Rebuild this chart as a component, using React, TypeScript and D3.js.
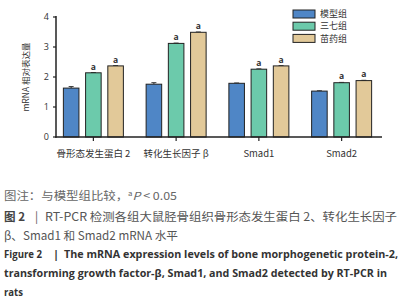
import React from "react";
import * as d3 from "d3";

const categories = ["骨形态发生蛋白 2", "转化生长因子 β", "Smad1", "Smad2"];
const seriesNames = ["模型组", "三七组", "苗药组"];
const modelValues = [1.63, 1.76, 1.79, 1.53];
const sanqiValues = [2.14, 3.12, 2.26, 1.81];
const miaoValues = [2.37, 3.49, 2.37, 1.88];
const modelErr = [0.05, 0.05, 0.01, 0.01];
const sanqiErr = [0.01, 0.01, 0.01, 0.01];
const miaoErr = [0.01, 0.01, 0.01, 0.01];
const sigMarks = [
  ["", "a", "a"],
  ["", "a", "a"],
  ["", "a", "a"],
  ["", "a", "a"],
];
const yTicks = [0, 1, 2, 3, 4];
const colors = ["#4f86c6", "#6ccaab", "#e2c999"];

const W = 407;
const H = 300;

export default function App() {
  const series = [modelValues, sanqiValues, miaoValues];
  const errs = [modelErr, sanqiErr, miaoErr];
  const y = d3.scaleLinear().domain([0, 4]).range([137, 17]);
  const x0 = d3.scaleBand<string>().domain(categories).range([52, 383]).paddingInner(0).paddingOuter(0);
  const x1 = d3.scaleBand<string>().domain(seriesNames).range([-30, 30]).paddingInner(0.3).paddingOuter(0);
  const sans = "'Noto Sans CJK SC', 'Noto Sans', sans-serif";
  const latin = "'Open Sans', 'Noto Sans', 'Noto Sans CJK SC', sans-serif";

  return (
    <svg width={W} height={H} style={{ position: "absolute", left: 0, top: 0, background: "#fff" }}>
      {/* y label */}
      <text
        transform={`translate(29,77) rotate(-90)`}
        textAnchor="middle"
        fontSize={8.5}
        fontFamily={sans}
        fill="#333"
      >
        mRNA 相对表达量
      </text>
      {/* y ticks */}
      {yTicks.map((t) => (
        <g key={t}>
          <line x1={53} x2={56} y1={y(t)} y2={y(t)} stroke="#222" strokeWidth={1.2} />
          <text x={49} y={y(t)} dy="0.35em" textAnchor="end" fontSize={9} fontFamily={latin} fill="#333">
            {t}
          </text>
        </g>
      ))}
      {/* bars */}
      {categories.map((c, ci) => {
        const cx = (x0(c) as number) + x0.bandwidth() / 2;
        return (
          <g key={c}>
            {series.map((vals, si) => {
              const bx = cx + (x1(seriesNames[si]) as number);
              const bw = x1.bandwidth();
              const v = vals[ci];
              const e = errs[si][ci];
              return (
                <g key={si}>
                  <line x1={bx + bw / 2} x2={bx + bw / 2} y1={y(v)} y2={y(v + e)} stroke="#333" strokeWidth={1} />
                  <line x1={bx + bw / 2 - 2.5} x2={bx + bw / 2 + 2.5} y1={y(v + e)} y2={y(v + e)} stroke="#333" strokeWidth={1} />
                  <rect x={bx} y={y(v)} width={bw} height={y(0) - y(v)} fill={colors[si]} stroke="#222" strokeWidth={1} />
                  {sigMarks[ci][si] && (
                    <text x={bx + bw / 2} y={y(v + e) - 3} textAnchor="middle" fontSize={8.5} fontWeight="bold" fontFamily={latin} fill="#333">
                      {sigMarks[ci][si]}
                    </text>
                  )}
                </g>
              );
            })}
            <line x1={cx} x2={cx} y1={137} y2={141} stroke="#222" strokeWidth={1.2} />
            <text x={cx} y={157} textAnchor="middle" fontSize={9.5} fontFamily={sans} fill="#333">
              {c}
            </text>
          </g>
        );
      })}
      {/* axes */}
      <line x1={56} x2={56} y1={16} y2={137.7} stroke="#222" strokeWidth={1.5} />
      <line x1={55.3} x2={382} y1={137} y2={137} stroke="#222" strokeWidth={1.5} />
      {/* legend */}
      {seriesNames.map((s, i) => (
        <g key={s}>
          <rect x={293} y={10 + i * 12.2} width={22} height={8} fill={colors[i]} stroke="#222" strokeWidth={1} />
          <text x={320} y={14 + i * 12.2} dy="0.35em" fontSize={9} fontFamily={sans} fill="#333">
            {s}
          </text>
        </g>
      ))}
      {/* caption */}
      <text x={4} y={200} fontSize={11} fontFamily={sans} fill="#666" textLength={173} lengthAdjust="spacingAndGlyphs">
        图注：与模型组比较，
        <tspan fontSize={7} dy={-4}>a</tspan>
        <tspan dy={4} fontStyle="italic">P</tspan>
        {" < 0.05"}
      </text>
      <text y={221} fontSize={11.5} fontFamily={sans} fill="#555">
        <tspan x={4} fontWeight="bold" fill="#444" textLength={21} lengthAdjust="spacingAndGlyphs">图 2</tspan>
        <tspan x={35}>|</tspan>
        <tspan x={45} textLength={352} lengthAdjust="spacingAndGlyphs">RT-PCR 检测各组大鼠胫骨组织骨形态发生蛋白 2、转化生长因子</tspan>
      </text>
      <text x={4} y={240} fontSize={11.5} fontFamily={sans} fill="#555" textLength={174} lengthAdjust="spacingAndGlyphs">
        β、Smad1 和 Smad2 mRNA 水平
      </text>
      <text y={258} fontSize={11} fontFamily={latin} fontWeight="bold" fill="#333">
        <tspan x={4} textLength={38} lengthAdjust="spacingAndGlyphs">Figure 2</tspan>
        <tspan x={53}>|</tspan>
        <tspan x={64} textLength={334} lengthAdjust="spacingAndGlyphs">The mRNA expression levels of bone morphogenetic protein-2,</tspan>
      </text>
      <text x={4} y={277} fontSize={11} fontFamily={latin} fontWeight="bold" fill="#333" textLength={383} lengthAdjust="spacingAndGlyphs">
        transforming growth factor-β, Smad1, and Smad2 detected by RT-PCR in
      </text>
      <text x={4} y={296} fontSize={11} fontFamily={latin} fontWeight="bold" fill="#333" textLength={19} lengthAdjust="spacingAndGlyphs">
        rats
      </text>
    </svg>
  );
}
